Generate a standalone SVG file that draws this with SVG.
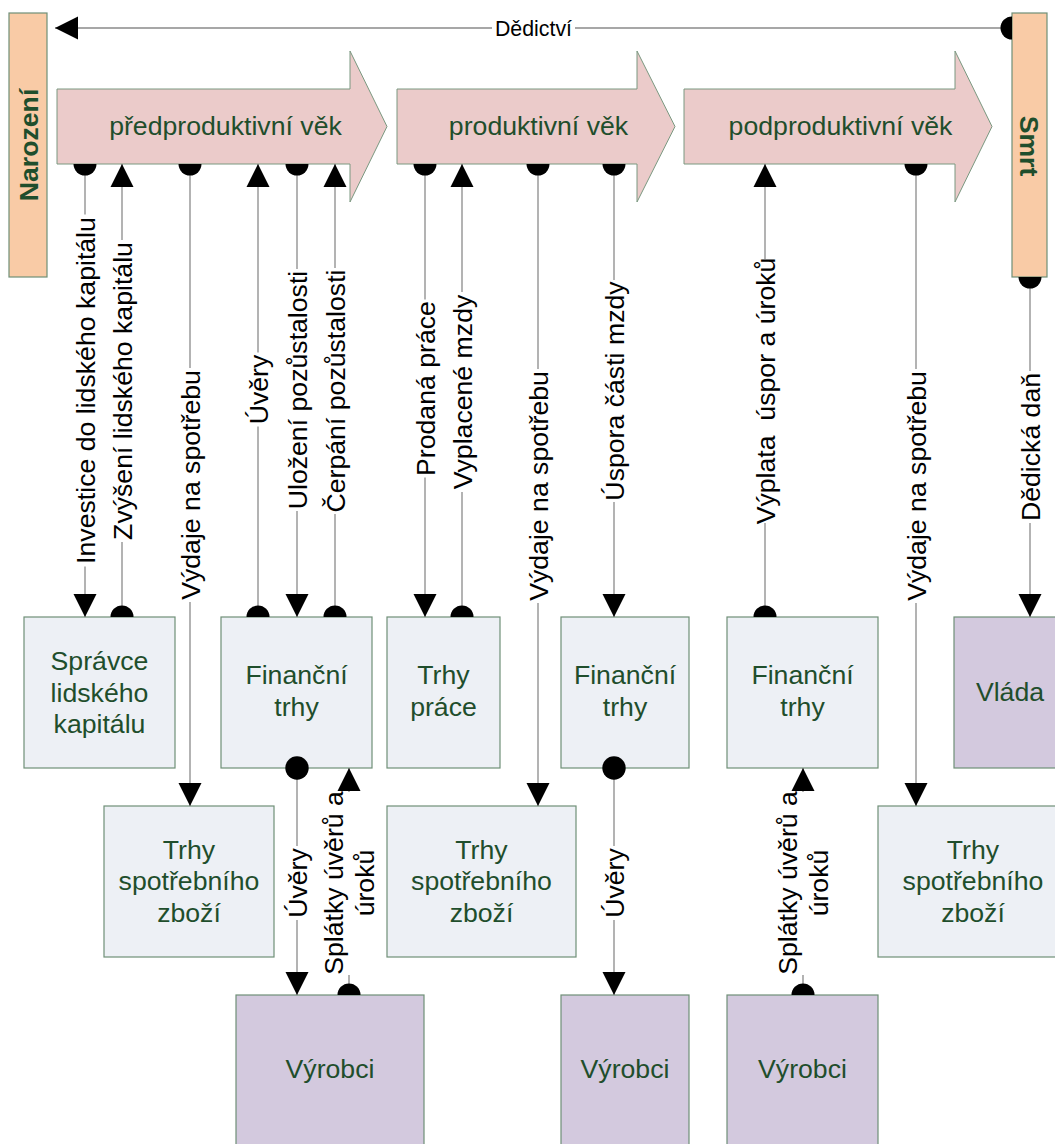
<svg xmlns="http://www.w3.org/2000/svg" width="1055" height="1144" viewBox="0 0 1055 1144">
  <style>
    .stage { fill: #ebcbca; stroke: #7a9880; stroke-width: 1; }
    .box { fill: #edf0f5; stroke: #6f8f77; stroke-width: 1.2; }
    .box2 { fill: #d3c9de; stroke: #6f8f77; stroke-width: 1.2; }
    .edge { fill: #f9cba6; stroke: #6f8f77; stroke-width: 1.2; }
    .nt { font-family: "Liberation Sans", Arial, sans-serif; font-size: 26.67px; fill: #1f4e2c; text-anchor: middle; }
    .bt { font-family: "Liberation Sans", Arial, sans-serif; font-size: 26.67px; font-weight: bold; fill: #1f4e2c; text-anchor: middle; }
    .ln { fill: none; stroke: #8a8a8a; stroke-width: 1.3; }
    .ll { font-family: "Liberation Sans", Arial, sans-serif; font-size: 26.67px; fill: #000; text-anchor: middle; }
    .gap { fill: #fff; }
  </style>
  <defs>
    <marker id="arrow" viewBox="-24 -13 25 26" markerWidth="25" markerHeight="26" refX="0" refY="0" markerUnits="userSpaceOnUse" orient="auto">
      <path d="M0,0 L-23,-11.5 L-23,11.5 Z" fill="#000"/>
    </marker>
    <marker id="half" viewBox="-1 -13 14 26" markerWidth="14" markerHeight="26" refX="0" refY="0" markerUnits="userSpaceOnUse" orient="auto">
      <path d="M0,-11.5 A11.5,11.5 0 0 1 0,11.5 Z" fill="#000"/>
    </marker>
    <marker id="dot" viewBox="-13 -13 26 26" markerWidth="26" markerHeight="26" refX="0" refY="0" markerUnits="userSpaceOnUse" orient="auto">
      <circle cx="0" cy="0" r="11.7" fill="#000"/>
    </marker>
  </defs>

  <!-- life stages -->
  <g id="narozeni">
    <rect class="edge" x="9" y="13" width="38" height="264"/>
    <text class="bt" transform="translate(28,145) rotate(-90)" x="0" y="9.5">Narození</text>
  </g>
  <g id="smrt">
    <rect class="edge" x="1012" y="13" width="35" height="264"/>
    <text class="bt" transform="translate(1029.5,146) rotate(90)" x="0" y="9.5">Smrt</text>
  </g>
  <g id="predproduktivni">
    <path class="stage" d="M57,89 L350,89 L350,51 L387,126.5 L350,202 L350,164 L57,164 Z"/>
    <text class="nt" x="225.5" y="135">předproduktivní věk</text>
  </g>
  <g id="produktivni">
    <path class="stage" d="M397,89 L637,89 L637,51 L675,126.5 L637,202 L637,164 L397,164 Z"/>
    <text class="nt" x="538.5" y="135">produktivní věk</text>
  </g>
  <g id="podproduktivni">
    <path class="stage" d="M684,89 L955,89 L955,51 L992,126.5 L955,202 L955,164 L684,164 Z"/>
    <text class="nt" x="840.5" y="135">podproduktivní věk</text>
  </g>

  <!-- institutions -->
  <g id="spravce">
    <rect class="box" x="24" y="617" width="151" height="151"/>
    <text class="nt"><tspan x="99.5" y="670">Správce</tspan><tspan x="99.5" y="701.5">lidského</tspan><tspan x="99.5" y="733">kapitálu</tspan></text>
  </g>
  <g id="financni1">
    <rect class="box" x="221" y="617" width="151" height="151"/>
    <text class="nt"><tspan x="296.5" y="684">Finanční</tspan><tspan x="296.5" y="716">trhy</tspan></text>
  </g>
  <g id="trhy-prace">
    <rect class="box" x="387" y="617" width="113" height="151"/>
    <text class="nt"><tspan x="443.5" y="684">Trhy</tspan><tspan x="443.5" y="716">práce</tspan></text>
  </g>
  <g id="financni2">
    <rect class="box" x="561" y="617" width="128" height="151"/>
    <text class="nt"><tspan x="625" y="684">Finanční</tspan><tspan x="625" y="716">trhy</tspan></text>
  </g>
  <g id="financni3">
    <rect class="box" x="727" y="617" width="151" height="151"/>
    <text class="nt"><tspan x="802.5" y="684">Finanční</tspan><tspan x="802.5" y="716">trhy</tspan></text>
  </g>
  <g id="vlada">
    <rect class="box2" x="954" y="617" width="112" height="151"/>
    <text class="nt" x="1010" y="701">Vláda</text>
  </g>
  <g id="spotreba1">
    <rect class="box" x="104" y="806" width="170" height="151"/>
    <text class="nt"><tspan x="189" y="858.5">Trhy</tspan><tspan x="189" y="890">spotřebního</tspan><tspan x="189" y="921.5">zboží</tspan></text>
  </g>
  <g id="spotreba2">
    <rect class="box" x="387" y="806" width="189" height="151"/>
    <text class="nt"><tspan x="481.5" y="858.5">Trhy</tspan><tspan x="481.5" y="890">spotřebního</tspan><tspan x="481.5" y="921.5">zboží</tspan></text>
  </g>
  <g id="spotreba3">
    <rect class="box" x="878" y="806" width="190" height="151"/>
    <text class="nt"><tspan x="973" y="858.5">Trhy</tspan><tspan x="973" y="890">spotřebního</tspan><tspan x="973" y="921.5">zboží</tspan></text>
  </g>
  <g id="vyrobci1">
    <rect class="box2" x="236" y="995" width="188" height="160"/>
    <text class="nt" x="330" y="1078">Výrobci</text>
  </g>
  <g id="vyrobci2">
    <rect class="box2" x="561" y="995" width="128" height="160"/>
    <text class="nt" x="625" y="1078">Výrobci</text>
  </g>
  <g id="vyrobci3">
    <rect class="box2" x="727" y="995" width="151" height="160"/>
    <text class="nt" x="802.5" y="1078">Výrobci</text>
  </g>

  <!-- flows -->
  <g id="connectors">
    <path class="ln" d="M1012,28 L55,28" marker-start="url(#half)" marker-end="url(#arrow)"/>
    <rect class="gap" x="492" y="25" width="83" height="6"/>
    <text class="ll" x="533.5" y="35.5" style="font-size:21.33px">Dědictví</text>

    <path class="ln" d="M85,164 L85,617" marker-start="url(#half)" marker-end="url(#arrow)"/>
    <path class="ln" d="M122,617 L122,164" marker-start="url(#half)" marker-end="url(#arrow)"/>
    <path class="ln" d="M190,164 L190,806" marker-start="url(#half)" marker-end="url(#arrow)"/>
    <path class="ln" d="M258,617 L258,164" marker-start="url(#half)" marker-end="url(#arrow)"/>
    <path class="ln" d="M297,164 L297,617" marker-start="url(#half)" marker-end="url(#arrow)"/>
    <path class="ln" d="M335,617 L335,164" marker-start="url(#half)" marker-end="url(#arrow)"/>
    <path class="ln" d="M425,164 L425,617" marker-start="url(#half)" marker-end="url(#arrow)"/>
    <path class="ln" d="M462,617 L462,164" marker-start="url(#half)" marker-end="url(#arrow)"/>
    <path class="ln" d="M538,164 L538,806" marker-start="url(#half)" marker-end="url(#arrow)"/>
    <path class="ln" d="M614,164 L614,617" marker-start="url(#half)" marker-end="url(#arrow)"/>
    <path class="ln" d="M765,617 L765,164" marker-start="url(#half)" marker-end="url(#arrow)"/>
    <path class="ln" d="M916,164 L916,806" marker-start="url(#half)" marker-end="url(#arrow)"/>
    <path class="ln" d="M1030,277 L1030,617" marker-start="url(#half)" marker-end="url(#arrow)"/>
    <path class="ln" d="M297,768 L297,995" marker-start="url(#dot)" marker-end="url(#arrow)"/>
    <path class="ln" d="M614,768 L614,995" marker-start="url(#dot)" marker-end="url(#arrow)"/>

    <g transform="translate(85,390.5) rotate(-90)"><rect class="gap" x="-176" y="-3" width="352" height="6"/><text class="ll" y="9.5">Investice do lidského kapitálu</text></g>
    <g transform="translate(122,391) rotate(-90)"><rect class="gap" x="-151" y="-3" width="302" height="6"/><text class="ll" y="9.5">Zvýšení lidského kapitálu</text></g>
    <g transform="translate(190,485) rotate(-90)"><rect class="gap" x="-117" y="-3" width="234" height="6"/><text class="ll" y="9.5">Výdaje na spotřebu</text></g>
    <g transform="translate(258,389.5) rotate(-90)"><rect class="gap" x="-37" y="-3" width="74" height="6"/><text class="ll" y="9.5">Úvěry</text></g>
    <g transform="translate(297,390) rotate(-90)"><rect class="gap" x="-121" y="-3" width="242" height="6"/><text class="ll" y="9.5">Uložení pozůstalosti</text></g>
    <g transform="translate(335,391) rotate(-90)"><rect class="gap" x="-123" y="-3" width="246" height="6"/><text class="ll" y="9.5">Čerpání pozůstalosti</text></g>
    <g transform="translate(425,388.5) rotate(-90)"><rect class="gap" x="-89" y="-3" width="178" height="6"/><text class="ll" y="9.5">Prodaná práce</text></g>
    <g transform="translate(462,392) rotate(-90)"><rect class="gap" x="-100" y="-3" width="200" height="6"/><text class="ll" y="9.5">Vyplacené mzdy</text></g>
    <g transform="translate(538,486) rotate(-90)"><rect class="gap" x="-117" y="-3" width="234" height="6"/><text class="ll" y="9.5">Výdaje na spotřebu</text></g>
    <g transform="translate(614,391) rotate(-90)"><rect class="gap" x="-111" y="-3" width="222" height="6"/><text class="ll" y="9.5">Úspora části mzdy</text></g>
    <g transform="translate(765,391) rotate(-90)"><rect class="gap" x="-132" y="-3" width="264" height="6"/><text class="ll" y="9.5" xml:space="preserve">Výplata  úspor a úroků</text></g>
    <g transform="translate(916,486) rotate(-90)"><rect class="gap" x="-117" y="-3" width="234" height="6"/><text class="ll" y="9.5">Výdaje na spotřebu</text></g>
    <g transform="translate(1030,447) rotate(-90)"><rect class="gap" x="-76" y="-3" width="152" height="6"/><text class="ll" y="9.5">Dědická daň</text></g>
    <g transform="translate(297,883) rotate(-90)"><rect class="gap" x="-37" y="-3" width="74" height="6"/><text class="ll" y="9.5">Úvěry</text></g>
    <g transform="translate(614,883) rotate(-90)"><rect class="gap" x="-37" y="-3" width="74" height="6"/><text class="ll" y="9.5">Úvěry</text></g>

    <!-- repayment flows: line segments with a gap for the two-line label -->
    <path class="ln" d="M349,995 L349,975 M349,792 L349,768" marker-start="url(#half)" marker-end="url(#arrow)"/>
    <g transform="translate(349,883) rotate(-90)"><text class="ll"><tspan x="0" y="-6.5">Splátky úvěrů a</tspan><tspan x="0" y="24.5">úroků</tspan></text></g>
    <path class="ln" d="M803,995 L803,975 M803,792 L803,768" marker-start="url(#half)" marker-end="url(#arrow)"/>
    <g transform="translate(803,883) rotate(-90)"><text class="ll"><tspan x="0" y="-6.5">Splátky úvěrů a</tspan><tspan x="0" y="24.5">úroků</tspan></text></g>
  </g>
</svg>
